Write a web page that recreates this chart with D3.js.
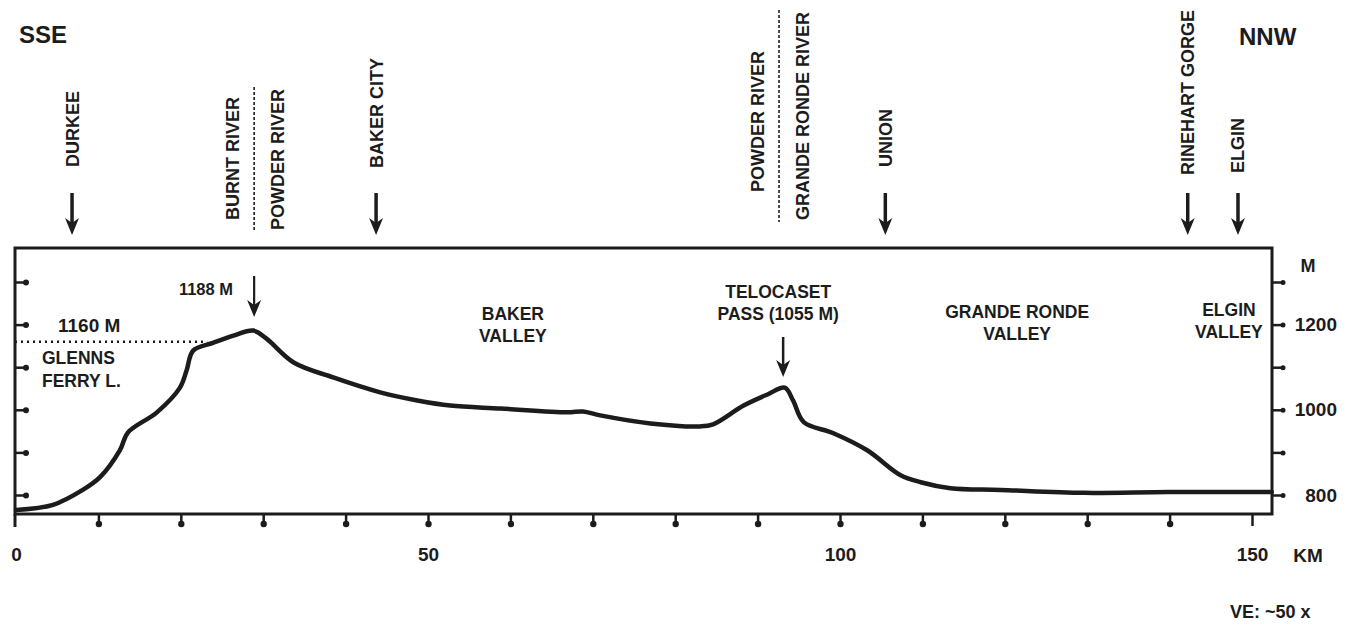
<!DOCTYPE html>
<html>
<head>
<meta charset="utf-8">
<script src="https://cdn.jsdelivr.net/npm/d3@7"></script>
<style>
body { margin: 0; background: #fff; }
svg text { font-family: "Liberation Sans", Arial, sans-serif; font-weight: bold; fill: #1c1c1c; }
</style>
</head>
<body>
<div class="profile"></div>
<script>
// elevation profile
const profileKm = [0, 4.5, 8.1, 10.2, 12.6, 13.6, 17.1, 19.9, 20.7, 21.5, 23.9, 26.4, 28.8, 30.4, 33.7, 38.5, 44.2, 48.7, 52.7,
    58.8, 66.9, 68.8, 70.9, 77, 83, 84.6, 88.3, 91.2, 93.3, 94.3, 95.6, 99.2, 103.3, 107.3, 109.8, 113.4, 119.5, 129.6, 139.8, 152.4];
const profileM = [765, 777, 812, 842, 905, 947, 994, 1052, 1092, 1139, 1157, 1174, 1186, 1167, 1111, 1076, 1041, 1022, 1010,
    1003, 994, 996, 987, 968, 961, 966, 1010, 1036, 1052, 1022, 971, 945, 905, 847, 830, 816, 812, 805, 807, 807];

const xTicks = [10, 20, 30, 40, 50, 60, 70, 80, 90, 100, 110, 120, 130, 140, 150];
const xLabels = [0, 50, 100, 150];
const yTicks = [800, 900, 1000, 1100, 1200, 1300];
const yLabels = [800, 1000, 1200];

const towns = ['DURKEE', 'BAKER CITY', 'UNION', 'RINEHART GORGE', 'ELGIN'];
const townKm = [6.8, 43.7, 105.5, 142.2, 148.3];
const divides = [['BURNT RIVER', 'POWDER RIVER'], ['POWDER RIVER', 'GRANDE RONDE RIVER']];
const divideKm = [28.9, 92.6];
const valleys = [['BAKER', 'VALLEY'], ['GRANDE RONDE', 'VALLEY'], ['ELGIN', 'VALLEY']];
const valleyKm = [60.3, 121.5, 147.2];
const lakeLevel = 1160;
const summitKm = 28.9;
const passKm = 93.1;

const width = 1351;
const height = 634;
const ink = '#1c1c1c';

const x = d3.scaleLinear().domain([0, 150]).range([16, 1252]);
const y = d3.scaleLinear().domain([800, 1300]).range([495, 282]);

const svg = d3.select('.profile')
    .append('svg')
    .attr('width', width)
    .attr('height', height)

const frameL = 15, frameR = 1272, frameT = 248, frameB = 514;

// frame
svg.append('rect')
    .attr('x', frameL).attr('y', frameT)
    .attr('width', frameR - frameL).attr('height', frameB - frameT)
    .attr('fill', 'none').attr('stroke', ink).attr('stroke-width', 3)
svg.append('line')
    .attr('x1', frameL).attr('x2', frameL).attr('y1', frameB).attr('y2', frameB + 13)
    .attr('stroke', ink).attr('stroke-width', 3)

// bottom ticks with little blobs
const xAxis = svg.append('g')
    .attr('transform', `translate(0,${frameB})`)
    .call(d3.axisBottom(x).tickValues(xTicks).tickSize(12).tickFormat(''))
xAxis.select('.domain').remove()
xAxis.selectAll('.tick line').attr('stroke', ink).attr('stroke-width', 2.5)
xAxis.selectAll('.tick')
    .filter(d => d !== 150)
    .append('circle')
    .attr('cy', 10).attr('r', 3.2).attr('fill', ink)

const xLab = svg.append('g')
    .attr('transform', `translate(0,${frameB})`)
    .call(d3.axisBottom(x).tickValues(xLabels).tickSize(0).tickPadding(34))
xLab.select('.domain').remove()
xLab.selectAll('text').attr('font-size', 19).attr('fill', ink)

// right axis
const yAxis = svg.append('g')
    .attr('transform', `translate(${frameR},0)`)
    .call(d3.axisRight(y).tickValues(yTicks).tickSize(12)
        .tickFormat(d => yLabels.includes(d) ? d : ''))
yAxis.select('.domain').remove()
yAxis.selectAll('.tick line').attr('stroke', ink).attr('stroke-width', 2.5)
yAxis.selectAll('.tick').append('circle').attr('cx', 11).attr('r', 2.5).attr('fill', ink)
yAxis.selectAll('text')
    .attr('x', 65).attr('text-anchor', 'end').attr('font-size', 19).attr('fill', ink)

// left ticks point inward
const yLeft = svg.append('g')
    .attr('transform', `translate(${frameL},0)`)
    .call(d3.axisRight(y).tickValues(yTicks).tickSize(12).tickFormat(''))
yLeft.select('.domain').remove()
yLeft.selectAll('.tick line').attr('stroke', ink).attr('stroke-width', 2.5)
yLeft.selectAll('.tick').append('circle').attr('cx', 11).attr('r', 3).attr('fill', ink)

svg.append('text').attr('x', 1308).attr('y', 272).attr('text-anchor', 'middle')
    .attr('font-size', 18).text('M')
svg.append('text').attr('x', 1308).attr('y', 562).attr('text-anchor', 'middle')
    .attr('font-size', 19).text('KM')

// lake level
const lakeEnd = 23.2;
svg.append('line')
    .attr('x1', frameL).attr('x2', x(lakeEnd))
    .attr('y1', y(lakeLevel)).attr('y2', y(lakeLevel))
    .attr('stroke', ink).attr('stroke-width', 2.5)
    .attr('stroke-dasharray', '2,4')

// profile
const line = d3.line()
    .x((d, i) => x(profileKm[i]))
    .y(d => y(d))
    .curve(d3.curveCatmullRom.alpha(0.5))
svg.append('path')
    .datum(profileM)
    .attr('d', line)
    .attr('fill', 'none')
    .attr('stroke', ink)
    .attr('stroke-width', 4.5)
    .attr('stroke-linejoin', 'round')
    .attr('stroke-linecap', 'round')

function arrow(px, y0, y1, w) {
    svg.append('line')
        .attr('x1', px).attr('x2', px).attr('y1', y0).attr('y2', y1 - 10)
        .attr('stroke', ink).attr('stroke-width', w)
    svg.append('path')
        .attr('d', `M${px - 7},${y1 - 17} L${px},${y1 - 12} L${px + 7},${y1 - 17} L${px},${y1} Z`)
        .attr('fill', ink)
}

function vtext(px, yb, label) {
    svg.append('text')
        .attr('transform', `translate(${px},${yb}) rotate(-90)`)
        .attr('dy', '0.36em')
        .attr('font-size', 18)
        .text(label)
}

// towns along the route
const townLabelY = [167, 168, 167, 175, 173];
towns.forEach((t, i) => {
    vtext(x(townKm[i]), townLabelY[i], t)
    arrow(x(townKm[i]), 193, 235, 3.5)
})

// drainage divides
const divideTop = [87, 10];
const divideBottom = [230, 222];
const divideLabelY = [[220, 230], [192, 220]];
divides.forEach((pair, i) => {
    const px = x(divideKm[i]);
    svg.append('line')
        .attr('x1', px).attr('x2', px)
        .attr('y1', divideTop[i]).attr('y2', divideBottom[i])
        .attr('stroke', ink).attr('stroke-width', 1.6)
        .attr('stroke-dasharray', '3,2')
    vtext(px - 22, divideLabelY[i][0], pair[0])
    vtext(px + 23, divideLabelY[i][1], pair[1])
})

// valley names
const valleyY = [320, 318, 316];
valleys.forEach((v, i) => {
    const t = svg.append('text')
        .attr('x', x(valleyKm[i])).attr('y', valleyY[i])
        .attr('text-anchor', 'middle').attr('font-size', 17.5)
    t.append('tspan').attr('x', x(valleyKm[i])).text(v[0])
    t.append('tspan').attr('x', x(valleyKm[i])).attr('dy', 22).text(v[1])
})

// summit and pass
svg.append('text').attr('x', 233).attr('y', 295).attr('text-anchor', 'end')
    .attr('font-size', 16.5).text('1188 M')
arrow(x(summitKm), 276, 317, 2.2)

const pass = svg.append('text')
    .attr('x', x(92.5)).attr('y', 298).attr('text-anchor', 'middle').attr('font-size', 17.5)
pass.append('tspan').attr('x', x(92.5)).text('TELOCASET')
pass.append('tspan').attr('x', x(92.5)).attr('dy', 22).text('PASS (1055 M)')
arrow(x(passKm), 337, 377, 2.5)

svg.append('text').attr('x', 58).attr('y', 332).attr('font-size', 19).text(`${lakeLevel} M`)
svg.append('text').attr('x', 42).attr('y', 364).attr('font-size', 17.5).text('GLENNS')
svg.append('text').attr('x', 42).attr('y', 387).attr('font-size', 17.5).text('FERRY L.')

// directions and note
svg.append('text').attr('x', 19).attr('y', 43).attr('font-size', 24).text('SSE')
svg.append('text').attr('x', 1239).attr('y', 45).attr('font-size', 24).text('NNW')
svg.append('text').attr('x', 1230).attr('y', 618).attr('font-size', 18).text('VE: ~50 x')
</script>
</body>
</html>
